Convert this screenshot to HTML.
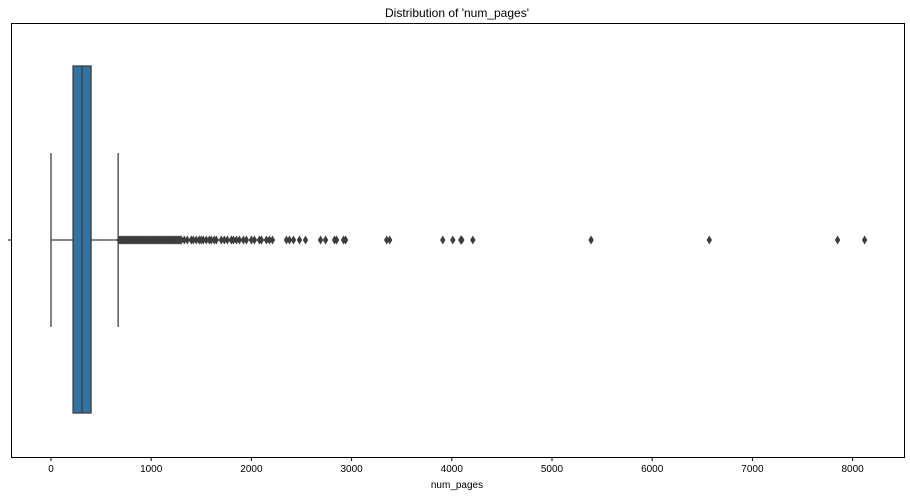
<!DOCTYPE html>
<html><head><meta charset="utf-8"><style>
body{margin:0;background:#fff;font-family:"Liberation Sans","DejaVu Sans",sans-serif;}
</style></head><body>
<svg id="chart" width="910" height="496" xmlns="http://www.w3.org/2000/svg" font-family="Liberation Sans, DejaVu Sans, sans-serif">
<text x="457" y="17" text-anchor="middle" font-size="12">Distribution of 'num_pages'</text>
<rect x="11.5" y="23.5" width="893" height="434" fill="none" stroke="#000" stroke-width="1"/>
<g id="marks"></g>
<g id="xticks"></g>
<line x1="8" x2="11.5" y1="240" y2="240" stroke="#000"/>
<text x="457" y="488" text-anchor="middle" font-size="10">num_pages</text>
</svg>
<script>
const tickValues=[0,1000,2000,3000,4000,5000,6000,7000,8000];
const boxStats=[0,220,310,400,670];
const outliers=[680,690,700,710,720,730,740,750,760,770,780,790,800,810,820,830,840,850,860,870,880,890,900,910,920,930,940,950,960,970,980,990,1000,1010,1020,1030,1040,1050,1060,1070,1080,1090,1100,1110,1120,1130,1140,1150,1160,1170,1180,1190,1200,1210,1220,1230,1240,1250,1260,1270,1280,1290,1300,1330,1360,1400,1420,1450,1480,1500,1520,1550,1580,1600,1630,1650,1700,1730,1760,1800,1820,1850,1880,1920,1950,2000,2030,2080,2100,2150,2180,2210,2350,2380,2420,2480,2540,2690,2740,2830,2850,2920,2940,3350,3380,3910,4010,4090,4100,4210,5390,6570,7850,8120];
const NS="http://www.w3.org/2000/svg";
function x(v){return 51+v*0.1002;}
const cy=240;
function mk(tag,attrs,parent){const e=document.createElementNS(NS,tag);for(const k in attrs)e.setAttribute(k,attrs[k]);parent.appendChild(e);return e;}
const g=document.getElementById('marks');
const [wlo,q1,med,q3,whi]=boxStats;
let e;
e=mk('line',{x1:x(wlo),x2:x(q1),y1:cy,y2:cy,stroke:'#3f3f3f','stroke-width':1.3},g);


e=mk('line',{x1:x(q3),x2:x(whi),y1:cy,y2:cy,stroke:'#3f3f3f','stroke-width':1.3},g);


e=mk('line',{x1:x(wlo),x2:x(wlo),y1:153,y2:327,stroke:'#3f3f3f','stroke-width':1.3},g);


e=mk('line',{x1:x(whi),x2:x(whi),y1:153,y2:327,stroke:'#3f3f3f','stroke-width':1.3},g);


e=mk('rect',{x:x(q1),y:66,width:x(q3)-x(q1),height:347,fill:'#3274a1',stroke:'#3f3f3f','stroke-width':1.3},g);


e=mk('line',{x1:x(med),x2:x(med),y1:66,y2:413,stroke:'#3f3f3f','stroke-width':1.3},g);


outliers.forEach(v=>{const px=x(v);
const p=mk('polygon',{points:`${px},${cy-4.5} ${px+2.7},${cy} ${px},${cy+4.5} ${px-2.7},${cy}`,fill:'#3d3d3d'},g);

});
const t=document.getElementById('xticks');
tickValues.forEach(v=>{const px=x(v);
const l=mk('line',{x1:px,x2:px,y1:457.5,y2:461,stroke:'#000'},t);


const tx=mk('text',{x:px,y:472,'text-anchor':'middle','font-size':10},t);
tx.textContent=v;

});
</script>
</body></html>
